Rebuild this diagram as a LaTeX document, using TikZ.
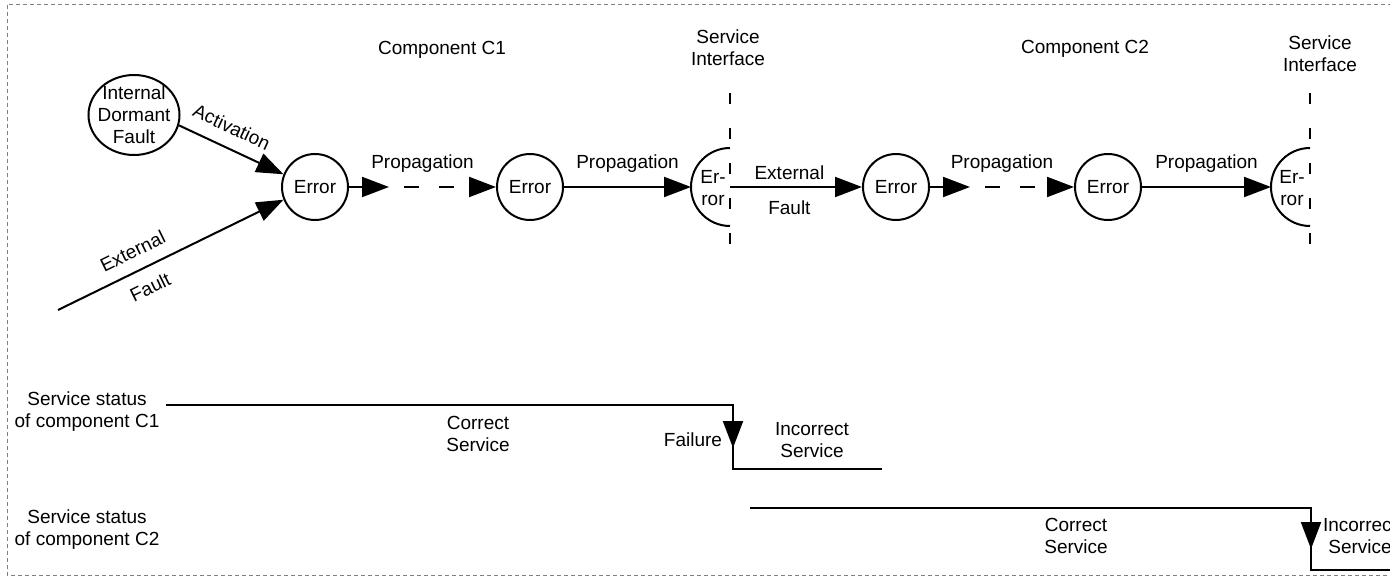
\documentclass[tikz,border=0pt]{standalone}
\usepackage{fontspec}
\setmainfont{Liberation Sans}
\usetikzlibrary{arrows.meta,positioning,shapes.geometric}
\tikzset{
	lbl/.style={font=\fontsize{19}{22}\selectfont, align=center, inner sep=0pt},
	err/.style={lbl, draw, circle, line width=2pt, minimum size=66pt},
	arr/.style={line width=2pt, -{Triangle[length=27pt,width=20pt]}},
	propdash/.style={dash pattern=on 15pt off 20pt, dash phase=20pt},
	iface/.style={line width=2pt, dash pattern=on 11pt off 24pt},
	frame/.style={gray, line width=1pt, dash pattern=on 4pt off 3pt},
}
\begin{document}
\begin{tikzpicture}[x=1pt,y=-1pt]
		\useasboundingbox (0,0) rectangle (1390,577);
		\draw[frame] (7,5) rectangle (1400,575);
		% Headings
		\node[lbl] (compA) at (442,50) {Component C1};
		\node[lbl] (compB) at (1085,49) {Component C2};
		\node[lbl] (sifA) at (728,48) {Service\\Interface};
		\node[lbl] (sifB) at (1320,54) {Service\\Interface};
		% Service interfaces
		\foreach \x in {730,1310}{
		\draw[iface] (\x,93) -- (\x,244);
		\draw[line width=2pt] (\x,226) arc[start angle=90, end angle=270, radius=39];
		}
		% Component C1
		\node[draw, ellipse, line width=2pt, minimum width=91pt, minimum height=80pt, inner sep=0pt] (idf) at (134,115) {};
		\node[lbl] (idftxt) at (idf) {Internal\\Dormant\\Fault};
		\node[err] (e1) at (315,187) {Error};
		\node[err] (e2) at (530,187) {Error};
		\node[lbl] (h1) at (713,188) {Er-\\ror};
		\coordinate (h1w) at (691,187);
		\coordinate (xf) at (58,310);
		\coordinate[right=40pt of e1] (p1);
		\draw[arr] (idf.-13) -- node[lbl, sloped, above=13pt, pos=0.42] (act) {Activation} (e1.158);
		\draw[arr] (xf) -- node[lbl, sloped, above=12pt, pos=0.37] (xfa) {External}
			node[lbl, sloped, below=12pt, pos=0.37] (xfb) {Fault} (e1.202);
		\draw[arr] (e1) -- (p1);
		\draw[arr, propdash] (p1) -- (e2);
		\path (e1) -- node[lbl, above=14pt] (prA) {Propagation} (e2);
		\draw[arr] (e2) -- node[lbl, above=14pt] (prB) {Propagation} (h1w);
		% Component C2
		\coordinate (sA) at (730,187);
		\node[err] (e3) at (896,187) {Error};
		\node[err] (e4) at (1108,187) {Error};
		\node[lbl] (h2) at (1292,188) {Er-\\ror};
		\coordinate (h2w) at (1271,187);
		\coordinate[right=40pt of e3] (p2);
		\draw[arr] (sA) -- node[lbl, above=6pt, pos=0.45] (xfc) {External}
			node[lbl, below=13pt, pos=0.45] (xfd) {Fault} (e3);
		\draw[arr] (e3) -- (p2);
		\draw[arr, propdash] (p2) -- (e4);
		\path (e3) -- node[lbl, above=14pt] (prC) {Propagation} (e4);
		\draw[arr] (e4) -- node[lbl, above=14pt] (prD) {Propagation} (h2w);
		% Service status of C1
		\node[lbl] (stA) at (87,412) {Service status\\of component C1};
		\draw[line width=2pt] (166,405) -- (733,405) -- (733,469) -- (882,469);
		\draw[arr] (733,405) -- (733,448);
		\node[lbl] (okA) at (478,434) {Correct\\Service};
		\node[lbl] (fail) at (693,440) {Failure};
		\node[lbl] (nokA) at (812,440) {Incorrect\\Service};
		% Service status of C2
		\node[lbl] (stB) at (87,530) {Service status\\of component C2};
		\draw[line width=2pt] (750,508) -- (1311,508) -- (1311,570) -- (1400,570);
		\draw[arr] (1311,508) -- (1311,549);
		\node[lbl] (okB) at (1076,536) {Correct\\Service};
		\node[lbl] (nokB) at (1360,536) {Incorrect\\Service};
	\end{tikzpicture}
\end{document}
